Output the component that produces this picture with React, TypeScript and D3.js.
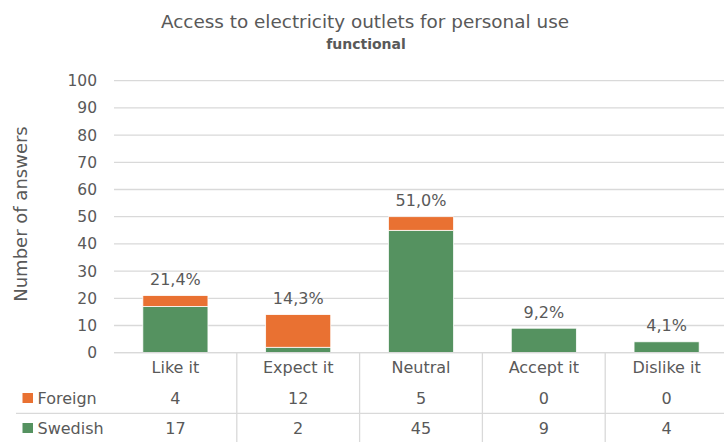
import React from "react";
import * as d3 from "d3";

// Survey answers per response category, stacked by respondent group
const categories = ["Like it", "Expect it", "Neutral", "Accept it", "Dislike it"];
const foreign = [4, 12, 5, 0, 0];
const swedish = [17, 2, 45, 9, 4];
const seriesNames = ["Foreign", "Swedish"];
const yDomain = [0, 100];

const W = 724;
const H = 442;
const FONT = "'DejaVu Sans', 'Noto Sans', sans-serif";
const TEXT = "#595959";
const GRID = "#d9d9d9";
const GREEN = "#559260";
const ORANGE = "#e97132";

export default function App() {
  const x = d3
    .scaleBand<string>()
    .domain(categories)
    .range([114, 114 + 5 * 122.8])
    .paddingInner(0)
    .paddingOuter(0);
  const y = d3.scaleLinear().domain(yDomain).range([352.7, 80.7]);
  const bw = x.bandwidth() * 0.53;

  const totals = categories.map((_, i) => foreign[i] + swedish[i]);
  const grand = d3.sum(totals);
  const pct = (v: number) => ((v / grand) * 100).toFixed(1).replace(".", ",") + "%";

  const stack = d3
    .stack<number>()
    .keys(["swedish", "foreign"])
    .value((i, key) => (key === "swedish" ? swedish[i] : foreign[i]));
  const layers = stack(categories.map((_, i) => i));

  const rowY = { cat: 367, foreign: 398, swedish: 428 };
  const bandEdges = categories.map((c) => x(c)!);

  return (
    <div style={{ position: "absolute", left: 0, top: 0 }}>
      <svg width={W} height={H} style={{ display: "block", fontFamily: FONT }}>
        <rect width={W} height={H} fill="#fff" />
        <text x={365} y={27.5} textAnchor="middle" fontSize={18.4} fill={TEXT}>
          Access to electricity outlets for personal use
        </text>
        <text x={366} y={49} textAnchor="middle" fontSize={14} fontWeight={700} fill={TEXT}>
          functional
        </text>

        {/* gridlines + y tick labels */}
        {y.ticks(10).map((t) => (
          <g key={t}>
            <line x1={114} x2={W} y1={y(t)} y2={y(t)} stroke={GRID} strokeWidth={1.3} />
            <text x={97} y={y(t)} dy="0.36em" textAnchor="end" fontSize={15.5} fill={TEXT}>
              {t}
            </text>
          </g>
        ))}

        <text
          transform={`translate(27,214) rotate(-90)`}
          textAnchor="middle"
          fontSize={18}
          fill={TEXT}
        >
          Number of answers
        </text>

        {/* stacked bars */}
        {layers.map((layer) => (
          <g key={layer.key} fill={layer.key === "swedish" ? GREEN : ORANGE}>
            {layer.map((d, i) =>
              d[1] - d[0] > 0 ? (
                <rect
                  key={i}
                  x={x(categories[i])! + (x.bandwidth() - bw) / 2}
                  y={y(d[1])}
                  width={bw}
                  height={y(d[0]) - y(d[1])}
                  stroke="#fff"
                  strokeWidth={0.75}
                />
              ) : null
            )}
          </g>
        ))}

        {/* percentage labels */}
        {categories.map((c, i) => (
          <text
            key={c}
            x={x(c)! + x.bandwidth() / 2}
            y={y(totals[i]) - 10.5}
            textAnchor="middle"
            fontSize={16}
            fill={TEXT}
          >
            {pct(totals[i])}
          </text>
        ))}

        {/* data table */}
        <line x1={16} x2={W} y1={413.3} y2={413.3} stroke={GRID} strokeWidth={1.3} />
        {bandEdges.slice(1).map((bx, i) => (
          <line key={i} x1={bx} x2={bx} y1={352.7} y2={H} stroke={GRID} strokeWidth={1.3} />
        ))}
        <line x1={114} x2={W} y1={y(0)} y2={y(0)} stroke={GRID} strokeWidth={1.3} />

        {categories.map((c, i) => {
          const cx = x(c)! + x.bandwidth() / 2;
          return (
            <g key={c} fontSize={16} fill={TEXT} textAnchor="middle">
              <text x={cx} y={rowY.cat} dy="0.36em">{c}</text>
              <text x={cx} y={rowY.foreign} dy="0.36em">{foreign[i]}</text>
              <text x={cx} y={rowY.swedish} dy="0.36em">{swedish[i]}</text>
            </g>
          );
        })}

        {seriesNames.map((s, i) => {
          const cy = i === 0 ? rowY.foreign : rowY.swedish;
          return (
            <g key={s}>
              <rect x={22.5} y={cy - 5} width={10.5} height={10} fill={i === 0 ? ORANGE : GREEN} />
              <text x={37.5} y={cy} dy="0.36em" fontSize={16} fill={TEXT}>
                {s}
              </text>
            </g>
          );
        })}
      </svg>
    </div>
  );
}
